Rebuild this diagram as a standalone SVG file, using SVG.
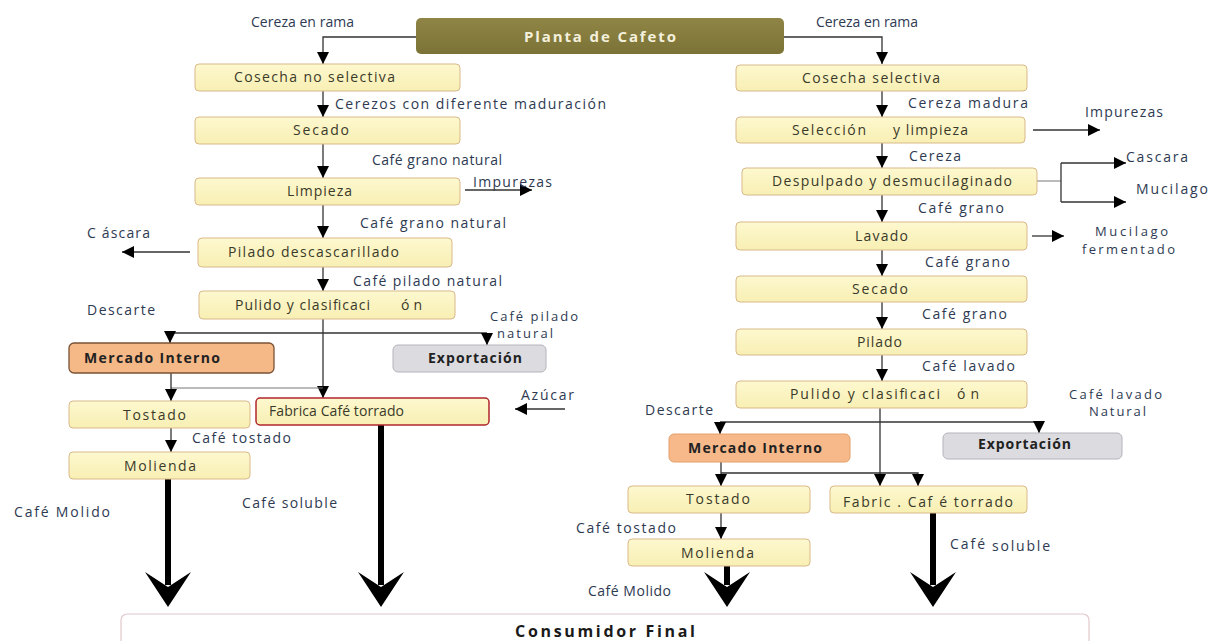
<svg xmlns="http://www.w3.org/2000/svg" width="1209" height="641" viewBox="0 0 1209 641">
<defs>
<style>
.box{fill:url(#gy);stroke:#d9b98a;stroke-width:1}
.t{font-family:"Open Sans","Liberation Sans",sans-serif;font-size:14px;fill:#3a3a2a}
.l{font-family:"Open Sans","Liberation Sans",sans-serif;font-size:14px;fill:#2e3a52}
.s{font-size:13px}
.b{font-weight:bold;fill:#222}
.c{fill:none;stroke:#333;stroke-width:1.3}
.cg{fill:none;stroke:#777;stroke-width:1}
.thick{fill:none;stroke:#000;stroke-width:6}
.ah{fill:#000}
</style>
<linearGradient id="gy" x1="0" y1="0" x2="0" y2="1">
<stop offset="0" stop-color="#fdf8cf"/>
<stop offset="1" stop-color="#f8efb3"/>
</linearGradient>
<linearGradient id="go" x1="0" y1="0" x2="0" y2="1">
<stop offset="0" stop-color="#8f8546"/>
<stop offset="1" stop-color="#7b7236"/>
</linearGradient>
<marker id="a" viewBox="0 0 10 10" refX="10" refY="5" markerWidth="12" markerHeight="12" markerUnits="userSpaceOnUse" orient="auto">
<path d="M0,0 L10,5 L0,10 Z" fill="#000"/>
</marker>
</defs>

<g id="connectors">
<path class="c" d="M416 37 H323 V64" marker-end="url(#a)"/>
<path class="c" d="M784 37 H882 V64" marker-end="url(#a)"/>
<path class="c" d="M323 91 V117" marker-end="url(#a)"/>
<path class="c" d="M323 144 V178" marker-end="url(#a)"/>
<path class="c" d="M465 190 H532" marker-end="url(#a)"/>
<path class="c" d="M323 205 V238" marker-end="url(#a)"/>
<path class="c" d="M190 252 H122" marker-end="url(#a)"/>
<path class="c" d="M323 267 V291" marker-end="url(#a)"/>
<path class="c" d="M170 333 H487"/>
<path class="c" d="M170 333 V343" marker-end="url(#a)"/>
<path class="c" d="M487 333 V345" marker-end="url(#a)"/>
<path class="c" d="M323 319 V398" marker-end="url(#a)"/>
<path class="cg" d="M171 388 H323"/>
<path class="c" d="M171 373 V401" marker-end="url(#a)"/>
<path class="c" d="M171 428 V452" marker-end="url(#a)"/>
<path class="c" d="M565 409 H515" marker-end="url(#a)"/>
<path class="thick" d="M168 479 V585"/>
<path class="ah" d="M168 607 L145 572 L168 587 L191 572 Z"/>
<path class="thick" d="M381 425 V585"/>
<path class="ah" d="M381 607 L358 572 L381 587 L404 572 Z"/>

<path class="c" d="M882 91 V117" marker-end="url(#a)"/>
<path class="c" d="M1033 130 H1100" marker-end="url(#a)"/>
<path class="c" d="M882 143 V168" marker-end="url(#a)"/>
<path class="cg" d="M1037 181 H1061"/>
<path class="c" d="M1061 163 V202"/>
<path class="c" d="M1061 163 H1126" marker-end="url(#a)"/>
<path class="c" d="M1061 202 H1126" marker-end="url(#a)"/>
<path class="c" d="M882 195 V222" marker-end="url(#a)"/>
<path class="c" d="M1032 236 H1064" marker-end="url(#a)"/>
<path class="c" d="M882 250 V276" marker-end="url(#a)"/>
<path class="c" d="M882 302 V329" marker-end="url(#a)"/>
<path class="c" d="M882 355 V381" marker-end="url(#a)"/>
<path class="c" d="M720 422 H1039"/>
<path class="c" d="M720 422 V434" marker-end="url(#a)"/>
<path class="c" d="M1039 422 V433" marker-end="url(#a)"/>
<path class="c" d="M880 408 V486" marker-end="url(#a)"/>
<path class="c" d="M721 462 V486" marker-end="url(#a)"/>
<path class="c" d="M721 473 H918 V486" marker-end="url(#a)"/>
<path class="c" d="M721 513 V539" marker-end="url(#a)"/>
<path class="thick" d="M727 566 V585"/>
<path class="ah" d="M727 607 L704 572 L727 587 L750 572 Z"/>
<path class="thick" d="M933 513 V585"/>
<path class="ah" d="M933 607 L910 572 L933 587 L956 572 Z"/>
</g>

<g id="planta">
<rect x="416" y="18" width="368" height="36" rx="5" fill="url(#go)"/>
<text x="524" y="42" textLength="152" font-family="Open Sans, Liberation Sans, sans-serif" font-size="15" font-weight="bold" fill="#f4f0dc">Planta de Cafeto</text>
</g>

<g id="labels">
<text class="l" x="251" y="27" textLength="103">Cereza en rama</text>
<text class="l" x="816" y="27" textLength="102">Cereza en rama</text>
<text class="l" x="335" y="109" textLength="271">Cerezos con diferente maduración</text>
<text class="l" x="372" y="165" textLength="130">Café grano natural</text>
<text class="l" x="473" y="187" textLength="79">Impurezas</text>
<text class="l" x="360" y="228" textLength="146">Café grano natural</text>
<text class="l" x="87" y="238" textLength="63">C áscara</text>
<text class="l" x="353" y="286" textLength="149">Café pilado natural</text>
<text class="l" x="87" y="315" textLength="68">Descarte</text>
<text class="l s" x="490" y="321" textLength="88">Café pilado</text>
<text class="l s" x="497" y="338" textLength="56">natural</text>
<text class="l" x="521" y="400" textLength="53">Azúcar</text>
<text class="l" x="192" y="443" textLength="99">Café tostado</text>
<text class="l" x="14" y="517" textLength="96">Café Molido</text>
<text class="l" x="242" y="508" textLength="95">Café soluble</text>

<text class="l" x="908" y="108" textLength="120">Cereza madura</text>
<text class="l" x="1085" y="117" textLength="78">Impurezas</text>
<text class="l" x="909" y="161" textLength="52">Cereza</text>
<text class="l" x="1126" y="162" textLength="62">Cascara</text>
<text class="l" x="1136" y="194" textLength="72">Mucilago</text>
<text class="l" x="918" y="213" textLength="86">Café grano</text>
<text class="l s" x="1095" y="236" textLength="73">Mucilago</text>
<text class="l s" x="1082" y="254" textLength="93">fermentado</text>
<text class="l" x="925" y="267" textLength="85">Café grano</text>
<text class="l" x="922" y="319" textLength="85">Café grano</text>
<text class="l" x="922" y="371" textLength="93">Café lavado</text>
<text class="l" x="645" y="415" textLength="68">Descarte</text>
<text class="l s" x="1069" y="399" textLength="93">Café lavado</text>
<text class="l s" x="1089" y="416" textLength="57">Natural</text>
<text class="l" x="576" y="533" textLength="100">Café tostado</text>
<text class="l" x="588" y="596" textLength="83">Café Molido</text>
<text class="l" x="950" y="549" textLength="35">Café</text>
<text class="l" x="992" y="551" textLength="58">soluble</text>
</g>

<g id="cosecha-no-selectiva"><rect class="box" x="195" y="64" width="265" height="27" rx="4"/><text class="t" x="234" y="82" textLength="161">Cosecha no selectiva</text></g>
<g id="secado-1"><rect class="box" x="195" y="117" width="265" height="27" rx="4"/><text class="t" x="293" y="135" textLength="56">Secado</text></g>
<g id="limpieza"><rect class="box" x="195" y="178" width="265" height="27" rx="4"/><text class="t" x="287" y="196" textLength="65">Limpieza</text></g>
<g id="pilado-descascarillado"><rect class="box" x="198" y="238" width="254" height="29" rx="4"/><text class="t" x="228" y="257" textLength="171">Pilado descascarillado</text></g>
<g id="pulido-1"><rect class="box" x="199" y="291" width="256" height="28" rx="4"/><text class="t" x="235" y="310" textLength="135">Pulido y clasificaci</text><text class="t" x="401" y="310" textLength="21">ón</text></g>
<g id="mercado-1"><rect x="69" y="343" width="205" height="30" rx="5" fill="#f5b887" stroke="#7a5236" stroke-width="1.3"/><text class="t b" x="84" y="363" textLength="136">Mercado Interno</text></g>
<g id="exportacion-1"><rect x="393" y="345" width="153" height="27" rx="5" fill="#dcdce0" stroke="#b4b4bc"/><text class="t b" x="428" y="363" textLength="94">Exportación</text></g>
<g id="tostado-1"><rect class="box" x="69" y="401" width="181" height="27" rx="4"/><text class="t" x="123" y="420" textLength="63">Tostado</text></g>
<g id="fabrica-1"><rect x="256" y="398" width="233" height="27" rx="4" fill="url(#gy)" stroke="#b0262c" stroke-width="1.5"/><text class="t" x="269" y="416" textLength="135">Fabrica Café torrado</text></g>
<g id="molienda-1"><rect class="box" x="69" y="452" width="181" height="27" rx="4"/><text class="t" x="124" y="471" textLength="72">Molienda</text></g>

<g id="cosecha-selectiva"><rect class="box" x="736" y="65" width="291" height="26" rx="4"/><text class="t" x="802" y="83" textLength="138">Cosecha selectiva</text></g>
<g id="seleccion"><rect class="box" x="736" y="117" width="289" height="26" rx="4"/><text class="t" x="792" y="135" textLength="74">Selección</text><text class="t" x="893" y="135" textLength="75">y limpieza</text></g>
<g id="despulpado"><rect class="box" x="742" y="168" width="295" height="27" rx="4"/><text class="t" x="772" y="186" textLength="240">Despulpado y desmucilaginado</text></g>
<g id="lavado"><rect class="box" x="736" y="222" width="291" height="28" rx="4"/><text class="t" x="855" y="241" textLength="53">Lavado</text></g>
<g id="secado-2"><rect class="box" x="736" y="276" width="291" height="26" rx="4"/><text class="t" x="852" y="294" textLength="56">Secado</text></g>
<g id="pilado"><rect class="box" x="736" y="329" width="291" height="26" rx="4"/><text class="t" x="857" y="347" textLength="45">Pilado</text></g>
<g id="pulido-2"><rect class="box" x="736" y="381" width="291" height="27" rx="4"/><text class="t" x="790" y="399" textLength="150">Pulido y clasificaci</text><text class="t" x="957" y="399" textLength="22">ón</text></g>
<g id="mercado-2"><rect x="669" y="434" width="181" height="28" rx="5" fill="#f7b98a" stroke="#e3a06c"/><text class="t b" x="688" y="453" textLength="134">Mercado Interno</text></g>
<g id="exportacion-2"><rect x="943" y="433" width="179" height="26" rx="5" fill="#dcdce0" stroke="#b4b4bc"/><text class="t b" x="978" y="449" textLength="93">Exportación</text></g>
<g id="tostado-2"><rect class="box" x="628" y="486" width="182" height="27" rx="4"/><text class="t" x="686" y="504" textLength="64">Tostado</text></g>
<g id="fabrica-2"><rect class="box" x="830" y="486" width="197" height="27" rx="4"/><text class="t" x="843" y="507" textLength="170">Fabric . Caf é torrado</text></g>
<g id="molienda-2"><rect class="box" x="628" y="539" width="182" height="27" rx="4"/><text class="t" x="681" y="558" textLength="73">Molienda</text></g>

<g id="consumidor-final"><rect x="121" y="614" width="968" height="40" rx="6" fill="#fff" stroke="#e2c8cc" stroke-width="1.2"/><text x="515" y="637" textLength="180" font-family="Open Sans, Liberation Sans, sans-serif" font-size="16" font-weight="bold" fill="#1a1a1a">Consumidor Final</text></g>
</svg>
